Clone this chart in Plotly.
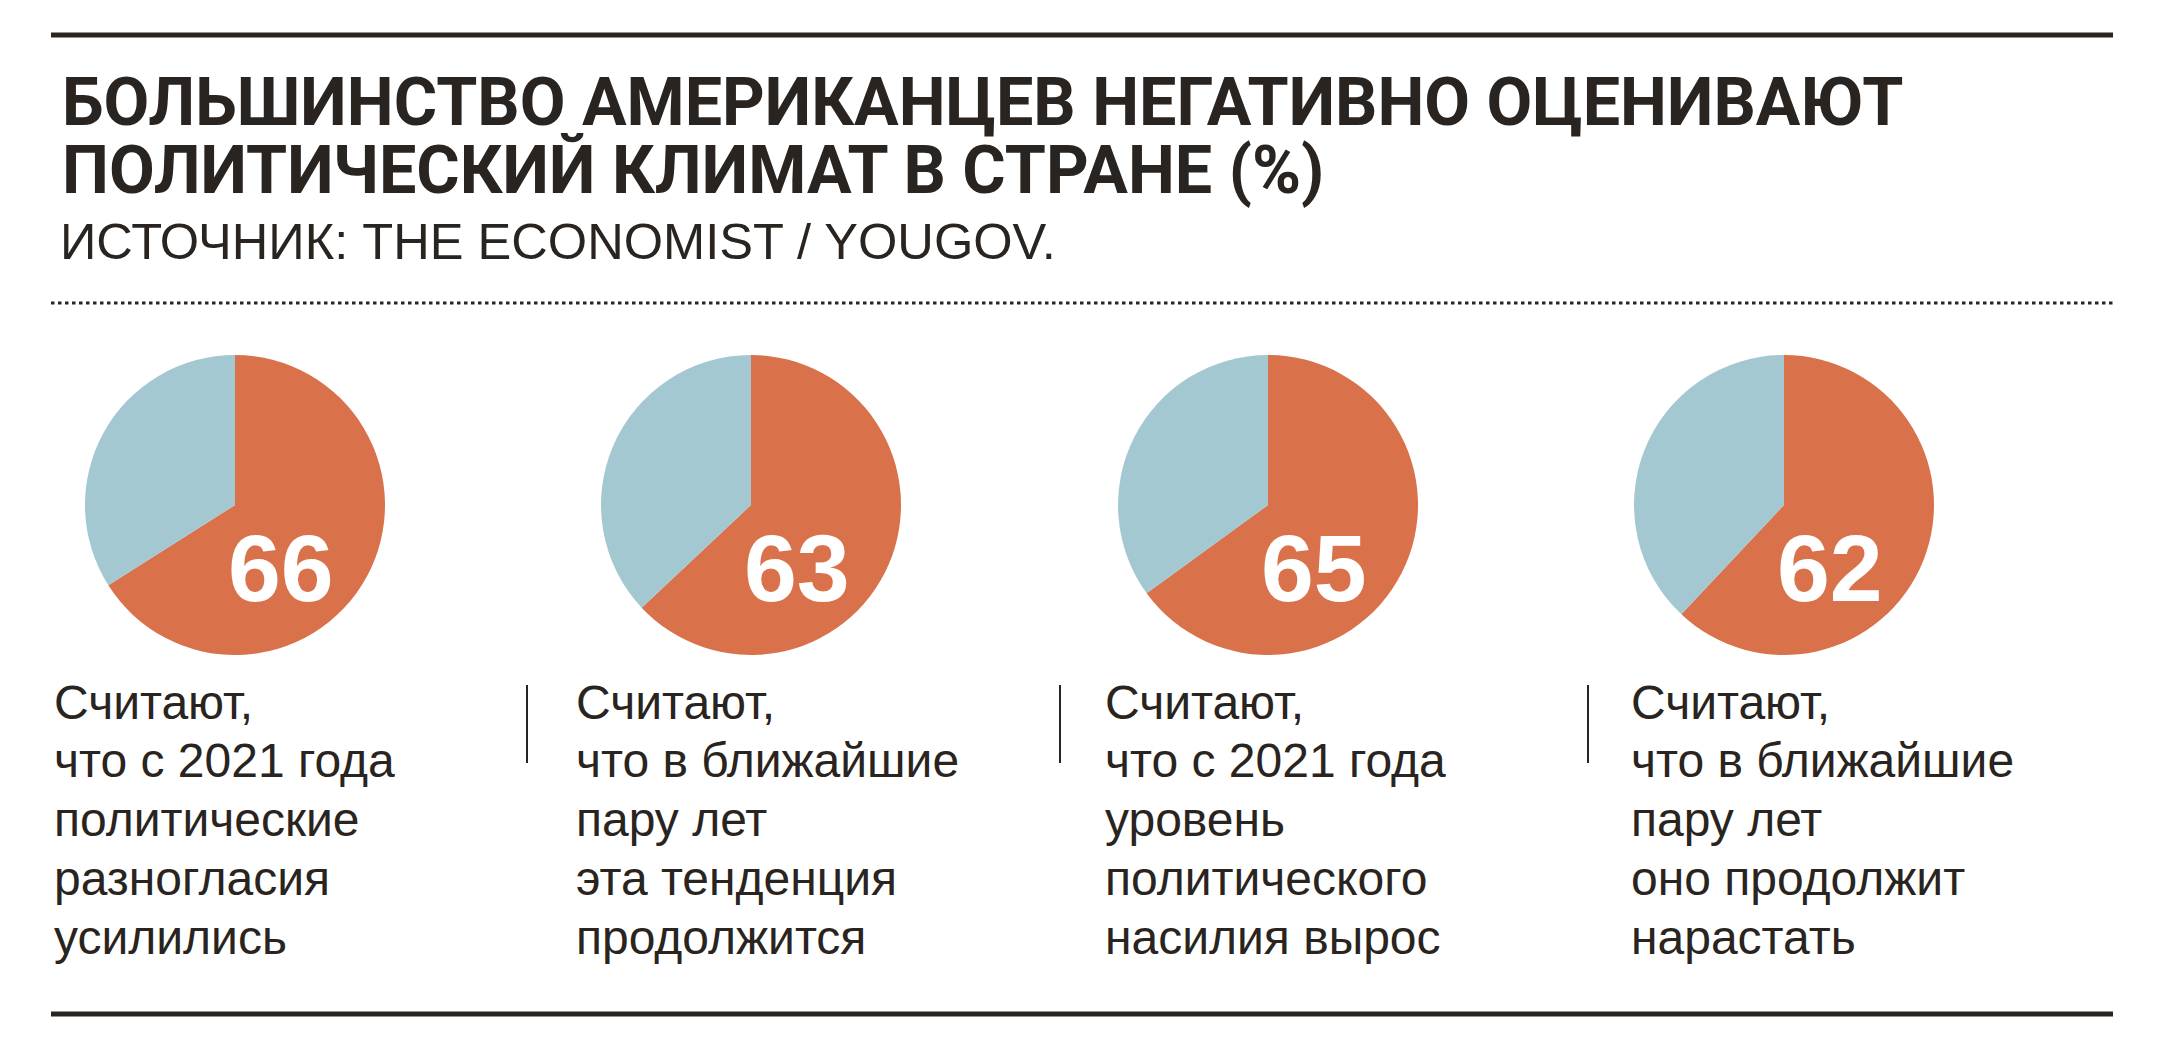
import plotly.graph_objects as go

# page body has an 8px margin; figure is sized to fit inside the window
OFF = 8
W, H = 2182 - 2 * OFF, 1056 - 2 * OFF

title_lines = ["БОЛЬШИНСТВО АМЕРИКАНЦЕВ НЕГАТИВНО ОЦЕНИВАЮТ",
               "ПОЛИТИЧЕСКИЙ КЛИМАТ В СТРАНЕ (%)"]
source = "ИСТОЧНИК: THE ECONOMIST / YOUGOV."
values = [66, 63, 65, 62]
descriptions = [
    ["Считают,", "что с 2021 года", "политические", "разногласия", "усилились"],
    ["Считают,", "что в ближайшие", "пару лет", "эта тенденция", "продолжится"],
    ["Считают,", "что с 2021 года", "уровень", "политического", "насилия вырос"],
    ["Считают,", "что в ближайшие", "пару лет", "оно продолжит", "нарастать"],
]

ORANGE = "#D9714B"
BLUE = "#A4C8D2"
INK = "#2A2420"

def px(x):
    return (x - OFF) / W

def py(y):
    return 1 - (y - OFF) / H

fig = go.Figure()

pie_cx = [235, 751, 1268, 1784]
pie_cy = 505
R = 150
for cx, v in zip(pie_cx, values):
    fig.add_trace(go.Pie(
        values=[v, 100 - v], labels=["Да", "Нет"],
        marker=dict(colors=[ORANGE, BLUE], line=dict(width=0)),
        sort=False, direction="clockwise", rotation=0,
        textinfo="none", hoverinfo="skip", showlegend=False,
        domain=dict(x=[px(cx - R), px(cx + R)], y=[py(pie_cy + R), py(pie_cy - R)]),
    ))

ann = []
title_y = [102, 170]
for t, y in zip(title_lines, title_y):
    ann.append(dict(text=t, x=px(60), y=py(y), xanchor="left", yanchor="middle",
                    font=dict(family="Roboto, Liberation Sans, sans-serif", size=66.4, color=INK, weight="bold"),
                    showarrow=False, xref="paper", yref="paper"))
ann.append(dict(text=source, x=px(58), y=py(242), xanchor="left", yanchor="middle",
                font=dict(family="Liberation Sans, Arial, sans-serif", size=50.6, color=INK),
                showarrow=False, xref="paper", yref="paper"))

for cx, v in zip(pie_cx, values):
    ann.append(dict(text=str(v), x=px(cx + 46), y=py(pie_cy + 63), xanchor="center", yanchor="middle",
                    font=dict(family="Liberation Sans, Arial, sans-serif", size=95, color="white", weight="bold"),
                    showarrow=False, xref="paper", yref="paper"))

text_x = [52, 574, 1103, 1629]
line_y0 = 702
pitch = 58.8
for tx, lines in zip(text_x, descriptions):
    for i, ln in enumerate(lines):
        ann.append(dict(text=ln, x=px(tx), y=py(line_y0 + i * pitch), xanchor="left", yanchor="middle",
                        font=dict(family="Liberation Sans, Arial, sans-serif", size=48, color=INK),
                        showarrow=False, xref="paper", yref="paper"))

shapes = [
    dict(type="line", xref="paper", yref="paper", x0=px(51), x1=px(2113), y0=py(35), y1=py(35),
         line=dict(color=INK, width=5)),
    dict(type="line", xref="paper", yref="paper", x0=px(51), x1=px(2113), y0=py(303), y1=py(303),
         line=dict(color=INK, width=3, dash="3.5px,3.5px")),
    dict(type="line", xref="paper", yref="paper", x0=px(51), x1=px(2113), y0=py(1014), y1=py(1014),
         line=dict(color=INK, width=5)),
]
for sx in [527, 1060, 1588]:
    shapes.append(dict(type="line", xref="paper", yref="paper", x0=px(sx), x1=px(sx), y0=py(685), y1=py(763),
                       line=dict(color=INK, width=2)))

fig.update_layout(
    width=W, height=H, margin=dict(l=0, r=0, t=0, b=0),
    paper_bgcolor="white", plot_bgcolor="white",
    annotations=ann, shapes=shapes,
)

fig.write_html("out.html")
